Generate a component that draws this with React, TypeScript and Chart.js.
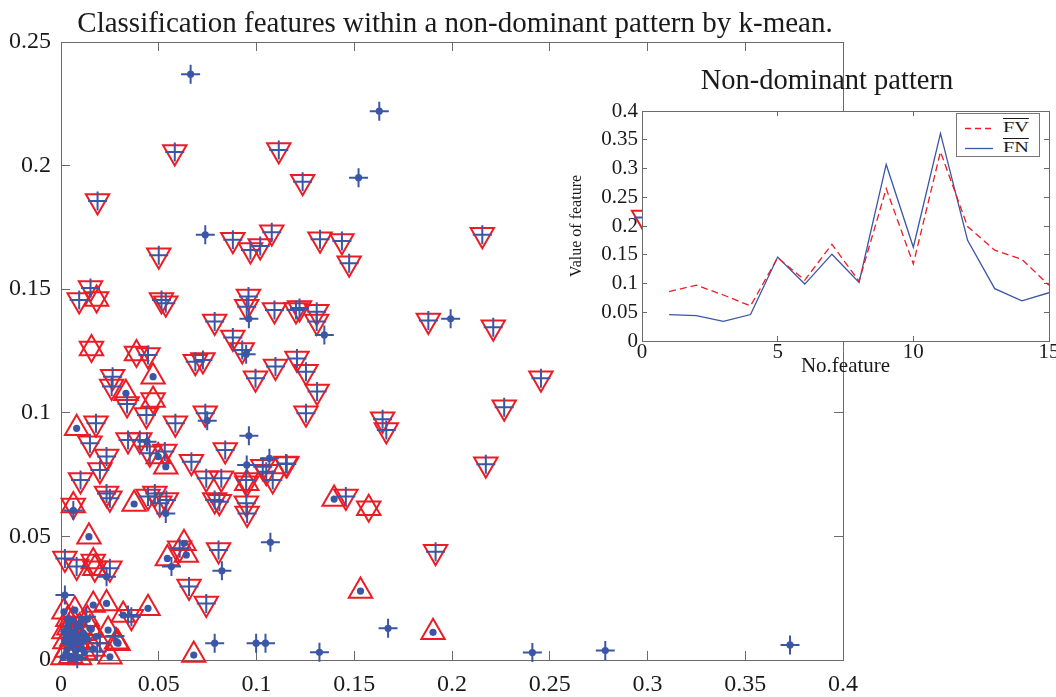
import React, { useEffect, useRef } from 'react';
import { Chart, registerables } from 'chart.js';

Chart.register(...registerables);

const RED = 'rgb(236,28,36)';
const BLUE = 'rgb(58,86,165)';
const AXIS = '#6a6a6a';
const TEXT = '#1a1a1a';
const SERIF = '"Liberation Serif", "Times New Roman", serif';

// ---------- main scatter: feature pairs (x, y) ----------
const mainTitle = 'Classification features within a non-dominant pattern by k-mean.';
const xTicks = [0, 0.05, 0.1, 0.15, 0.2, 0.25, 0.3, 0.35, 0.4];
const yTicks = [0, 0.05, 0.1, 0.15, 0.2, 0.25];

// red down-triangle with blue plus
const downWithPlus: [number, number][] = [
  [0.0582, 0.2055], [0.1114, 0.2063], [0.1236, 0.1935], [0.0187, 0.1857],
  [0.0879, 0.170], [0.0969, 0.1659], [0.1019, 0.1675], [0.1078, 0.1730],
  [0.1325, 0.1702], [0.1437, 0.1695], [0.1474, 0.1605], [0.0500, 0.1637],
  [0.2155, 0.1720], [0.0151, 0.1505], [0.0093, 0.1456], [0.0514, 0.1456],
  [0.0536, 0.1443], [0.0959, 0.1470], [0.0950, 0.1429], [0.1092, 0.1416],
  [0.1202, 0.1416], [0.1308, 0.1409], [0.1308, 0.1369], [0.0786, 0.1369],
  [0.0879, 0.1305], [0.0927, 0.1254], [0.0445, 0.1234], [0.0687, 0.1207],
  [0.0726, 0.1214], [0.1097, 0.1187], [0.1207, 0.1220], [0.1253, 0.1166],
  [0.0995, 0.1140], [0.1310, 0.1086], [0.0264, 0.1146], [0.0259, 0.1106],
  [0.0338, 0.1036], [0.0437, 0.0991], [0.0585, 0.0958], [0.0738, 0.0998],
  [0.1253, 0.0998], [0.0179, 0.0958], [0.0148, 0.0877], [0.0233, 0.0823],
  [0.0199, 0.0769], [0.0100, 0.0728], [0.0343, 0.0890], [0.0403, 0.0890],
  [0.0454, 0.0836], [0.0531, 0.0843], [0.0840, 0.0850], [0.0667, 0.0802],
  [0.0743, 0.0735], [0.0820, 0.0735], [0.0947, 0.0728], [0.1083, 0.0728],
  [0.1151, 0.0795], [0.1032, 0.0782], [0.1050, 0.0762], [0.0786, 0.0647],
  [0.0810, 0.0640], [0.0505, 0.0634], [0.0250, 0.0654], [0.0445, 0.0661],
  [0.0948, 0.0634], [0.0233, 0.0674], [0.0480, 0.0674], [0.0539, 0.0647],
  [0.0952, 0.0593], [0.1220, 0.1424], [0.1879, 0.1373], [0.2211, 0.1346],
  [0.2455, 0.1140], [0.2267, 0.1022], [0.1645, 0.0974], [0.1664, 0.0930],
  [0.2173, 0.0792], [0.1457, 0.0661], [0.1916, 0.0438], [0.0806, 0.0445],
  [0.0743, 0.0229], [0.1155, 0.0793], [0.0607, 0.0452], [0.0655, 0.0297],
  [0.0020, 0.0411], [0.0080, 0.0378], [0.0250, 0.0371], [0.0360, 0.0175],
  [0.2980, 0.1790],
];

// red up-triangle with blue dot
const upWithDot: [number, number][] = [
  [0.0471, 0.1146], [0.0332, 0.1079], [0.0080, 0.0937], [0.0497, 0.0823],
  [0.0536, 0.0782], [0.0374, 0.0631], [0.1397, 0.0651], [0.1532, 0.0279],
  [0.1903, 0.0112], [0.0143, 0.0499], [0.0544, 0.0411], [0.0641, 0.0425],
  [0.0629, 0.0472], [0.0679, 0.0020], [0.0445, 0.0209], [0.0318, 0.0182],
  [0.0233, 0.0229], [0.0165, 0.0222], [0.0241, 0.0121], [0.0284, 0.0074],
  [0.0250, 0.0013], [0.0114, 0.0108], [0.0148, 0.0128], [0.0015, 0.0195],
  [0.0071, 0.0202], [0.0292, 0.0068],
  [0.0010, 0.0010], [0.0030, 0.0040], [0.0050, 0.0015], [0.0075, 0.0035],
  [0.0095, 0.0010], [0.0120, 0.0030], [0.0020, 0.0075], [0.0055, 0.0085],
  [0.0085, 0.0070], [0.0110, 0.0075], [0.0015, 0.0115], [0.0040, 0.0130],
  [0.0070, 0.0115], [0.0095, 0.0135], [0.0035, 0.0165], [0.0060, 0.0160],
  [0.0165, 0.0045], [0.0180, 0.0095], [0.0135, 0.0165],
];

// blue plus with blue dot (no triangle)
const plusWithDot: [number, number][] = [
  [0.0663, 0.2370], [0.1628, 0.2220], [0.0738, 0.1720], [0.1522, 0.1951],
  [0.1347, 0.1315], [0.1993, 0.1380], [0.0961, 0.1380], [0.0947, 0.1237],
  [0.0748, 0.0968], [0.0440, 0.0883], [0.0961, 0.0907], [0.1066, 0.0816],
  [0.0950, 0.0789], [0.1673, 0.0128], [0.1322, 0.0031], [0.0786, 0.0068],
  [0.0998, 0.0068], [0.1046, 0.0068], [0.1071, 0.0476], [0.0823, 0.0361],
  [0.0536, 0.0593], [0.0233, 0.0337], [0.0565, 0.0378], [0.0020, 0.0263],
  [0.0063, 0.0605], [0.2411, 0.0030], [0.2784, 0.0038], [0.3729, 0.0061],
];

// red up + down triangles (star)
const starPoints: [number, number][] = [
  [0.0182, 0.1460], [0.0156, 0.1260], [0.0386, 0.1240], [0.0471, 0.1052],
  [0.0950, 0.0715], [0.1574, 0.0614], [0.0063, 0.0625], [0.0165, 0.0398],
  [0.0173, 0.0371],
];

const bareDots: [number, number][] = [
  [0.0025, 0.0025], [0.0045, 0.0065], [0.0065, 0.0050], [0.0085, 0.0095],
  [0.0105, 0.0045], [0.0025, 0.0095], [0.0055, 0.0110], [0.0080, 0.0140],
  [0.0115, 0.0105], [0.0135, 0.0085], [0.0035, 0.0140], [0.0155, 0.0125],
  [0.0045, 0.0005], [0.0075, 0.0005], [0.0105, 0.0160],
];

const barePlus: [number, number][] = [
  [0.0130, 0.0175], [0.0276, 0.0097], [0.0185, 0.0034], [0.0083, 0.0005],
  [0.0343, 0.0182], [0.0199, 0.0068],
];

// ---------- inset: mean feature values ----------
const insetTitle = 'Non-dominant pattern';
const featureNo = [1, 2, 3, 4, 5, 6, 7, 8, 9, 10, 11, 12, 13, 14, 15];
const fvValues = [0.086, 0.097, 0.080, 0.061, 0.145, 0.106, 0.168, 0.104, 0.265, 0.134, 0.329, 0.199, 0.158, 0.142, 0.097];
const fnValues = [0.046, 0.044, 0.034, 0.046, 0.146, 0.099, 0.151, 0.102, 0.307, 0.163, 0.361, 0.175, 0.091, 0.070, 0.084];

const pts = (a: [number, number][]) => a.map(([x, y]) => ({ x, y }));
const fmt = (v: any) => String(Number(Number(v).toFixed(3)));

const MAIN_W = 910;
const MAIN_H = 697;
const INSET_W = 534;
const INSET_H = 335;

const areaFill = {
  id: 'areaFill',
  beforeDraw(chart: any) {
    const { ctx, chartArea } = chart;
    ctx.save();
    ctx.fillStyle = '#ffffff';
    ctx.fillRect(chartArea.left, chartArea.top, chartArea.right - chartArea.left, chartArea.bottom - chartArea.top);
    ctx.restore();
  },
};

export default function App() {
  const mainRef = useRef<HTMLCanvasElement | null>(null);
  const insetRef = useRef<HTMLCanvasElement | null>(null);

  useEffect(() => {
    const tickFont = { family: SERIF, size: 24 };
    const boxAxis = (pos: string, min: number, max: number, step: number, size: number, show: boolean, pad: number) => ({
      type: 'linear',
      position: pos,
      min,
      max,
      ticks: {
        stepSize: step,
        display: show,
        font: tickFont,
        color: TEXT,
        padding: pad,
        callback: fmt,
        autoSkip: false,
        maxRotation: 0,
      },
      grid: { drawOnChartArea: false, tickLength: -9, color: AXIS, lineWidth: 1 },
      border: { display: true, color: AXIS, width: 1 },
      afterFit: (s: any) => {
        if (pos === 'top' || pos === 'bottom') s.height = size;
        else s.width = size;
      },
    });

    const TRI_R = 13.5;
    const main = new Chart(mainRef.current as HTMLCanvasElement, {
      type: 'scatter',
      data: {
        datasets: [
          {
            label: 'dot',
            data: pts([...upWithDot, ...plusWithDot, ...bareDots]),
            pointStyle: 'circle',
            pointRadius: 3.6,
            pointBackgroundColor: BLUE,
            pointBorderWidth: 0,
            order: 0,
            clip: false,
          },
          {
            label: 'plus',
            data: pts([...downWithPlus, ...plusWithDot, ...barePlus]),
            pointStyle: 'cross',
            pointRadius: 9.5,
            pointBorderColor: BLUE,
            pointBorderWidth: 2,
            order: 1,
            clip: false,
          },
          {
            label: 'down',
            data: pts([...downWithPlus, ...starPoints]),
            pointStyle: 'triangle',
            pointRotation: 180,
            pointRadius: TRI_R,
            pointBorderColor: RED,
            pointBackgroundColor: 'rgba(0,0,0,0)',
            pointBorderWidth: 2,
            order: 2,
            clip: false,
          },
          {
            label: 'up',
            data: pts([...upWithDot, ...starPoints]),
            pointStyle: 'triangle',
            pointRotation: 0,
            pointRadius: TRI_R,
            pointBorderColor: RED,
            pointBackgroundColor: 'rgba(0,0,0,0)',
            pointBorderWidth: 2,
            order: 3,
            clip: false,
          },
        ] as any,
      },
      options: {
        responsive: false,
        animation: false,
        events: [],
        layout: { padding: 0 },
        plugins: {
          legend: { display: false },
          tooltip: { enabled: false },
          title: {
            display: true,
            text: mainTitle,
            color: TEXT,
            font: { family: SERIF, size: 29, weight: 'normal' },
            padding: { top: 6.6, bottom: 0.6 },
          },
        },
        scales: {
          x: boxAxis('bottom', xTicks[0], xTicks[xTicks.length - 1], 0.05, 37, true, 19.6),
          x2: boxAxis('top', xTicks[0], xTicks[xTicks.length - 1], 0.05, 0, false, 0),
          y: boxAxis('left', yTicks[0], yTicks[yTicks.length - 1], 0.05, 61, true, 19),
          y2: boxAxis('right', yTicks[0], yTicks[yTicks.length - 1], 0.05, MAIN_W - 843, false, 0),
        } as any,
      } as any,
    });

    const insetFont = { family: SERIF, size: 21 };
    const insetAxis = (pos: string, min: number, max: number, step: number, size: number, show: boolean, pad: number, title?: any) => ({
      type: 'linear',
      position: pos,
      min,
      max,
      ticks: {
        stepSize: step,
        display: show,
        font: insetFont,
        color: TEXT,
        padding: pad,
        callback: fmt,
        autoSkip: false,
        maxRotation: 0,
      },
      title: title || { display: false },
      grid: { drawOnChartArea: false, tickLength: -5, color: AXIS, lineWidth: 1 },
      border: { display: true, color: AXIS, width: 1 },
      afterFit: (s: any) => {
        if (pos === 'top' || pos === 'bottom') s.height = size;
        else s.width = size;
      },
    });

    const inset = new Chart(insetRef.current as HTMLCanvasElement, {
      type: 'line',
      data: {
        datasets: [
          {
            label: 'FV',
            data: featureNo.map((x, i) => ({ x, y: fvValues[i] })),
            borderColor: RED,
            borderWidth: 1.3,
            borderDash: [7, 4],
            pointRadius: 0,
            tension: 0,
            fill: false,
          },
          {
            label: 'FN',
            data: featureNo.map((x, i) => ({ x, y: fnValues[i] })),
            borderColor: BLUE,
            borderWidth: 1.3,
            pointRadius: 0,
            tension: 0,
            fill: false,
          },
        ],
      },
      options: {
        responsive: false,
        animation: false,
        events: [],
        layout: { padding: 0 },
        plugins: {
          legend: { display: false },
          tooltip: { enabled: false },
          title: {
            display: true,
            text: insetTitle,
            color: TEXT,
            font: { family: SERIF, size: 28.5, weight: 'normal' },
            padding: { top: 14.9, bottom: 11.9 },
          },
        },
        scales: {
          x: insetAxis('bottom', 0, 15, 5, INSET_H - 291, true, 3.4, {
            display: true,
            text: 'No.feature',
            color: TEXT,
            font: { family: SERIF, size: 21 },
            padding: { top: 0, bottom: 5.9 },
          }),
          x2: insetAxis('top', 0, 15, 5, 0, false, 0),
          y: insetAxis('left', 0, 0.4, 0.05, 82, true, 9, {
            display: true,
            text: 'Value of feature',
            color: TEXT,
            font: { family: SERIF, size: 16 },
            padding: { top: 7, bottom: 0 },
          }),
          y2: insetAxis('right', 0, 0.4, 0.05, INSET_W - 489, false, 0),
        } as any,
      } as any,
      plugins: [areaFill],
    });

    return () => {
      main.destroy();
      inset.destroy();
    };
  }, []);

  const legendText: React.CSSProperties = {
    position: 'absolute',
    left: 45.7,
    fontFamily: SERIF,
    fontSize: 15,
    lineHeight: '15px',
    color: TEXT,
    textDecoration: 'overline',
    transform: 'scaleX(1.35)',
    transformOrigin: 'left center',
    whiteSpace: 'nowrap',
  };

  return (
    <div style={{ position: 'fixed', left: 0, top: 0, width: 1056, height: 697, overflow: 'hidden', background: '#ffffff' }}>
      <canvas ref={mainRef} width={MAIN_W} height={MAIN_H} style={{ position: 'absolute', left: 0, top: 0 }} />
      <canvas ref={insetRef} width={INSET_W} height={INSET_H} style={{ position: 'absolute', left: 560, top: 50 }} />
      <div
        style={{
          position: 'absolute',
          left: 956,
          top: 113,
          width: 84,
          height: 44,
          border: '1px solid #777',
          background: '#ffffff',
          boxSizing: 'border-box',
        }}
      >
        <svg width={40} height={42} style={{ position: 'absolute', left: 0, top: 0 }}>
          <line x1={8} y1={14.5} x2={36} y2={14.5} stroke={RED} strokeWidth={1.3} strokeDasharray="6 4" />
          <line x1={8} y1={34.5} x2={36} y2={34.5} stroke={BLUE} strokeWidth={1.3} />
        </svg>
        <span style={{ ...legendText, top: 6.4 }}>FV</span>
        <span style={{ ...legendText, top: 26.4 }}>FN</span>
      </div>
    </div>
  );
}
